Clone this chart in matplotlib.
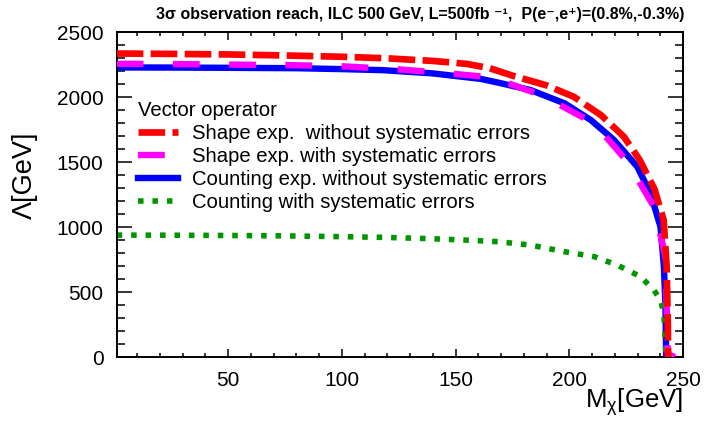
import matplotlib
matplotlib.use("Agg")
import matplotlib.pyplot as plt
from matplotlib.ticker import MultipleLocator

plt.rcParams['font.family'] = ['Liberation Sans', 'DejaVu Sans']
plt.rcParams['mathtext.fontset'] = 'custom'
plt.rcParams['mathtext.rm'] = 'Liberation Sans'
plt.rcParams['mathtext.it'] = 'Liberation Sans:italic'

# values
mass_red = [1, 25, 50, 75, 100, 120, 140, 155, 165, 175, 190, 202, 214, 224, 231, 237.5, 241.5, 242.8, 243.3, 243.5]
lam_red = [2335, 2332, 2328, 2320, 2310, 2298, 2278, 2255, 2222, 2165, 2090, 2002, 1860, 1695, 1515, 1290, 1054, 700, 300, 0]

mass_mag = [1, 25, 50, 76, 99, 125, 144, 166, 187.7, 211, 225.6, 237.2, 242.3, 243, 243.3, 246.5]
lam_mag = [2256, 2254, 2250, 2246, 2238, 2213, 2187, 2151, 2015, 1797, 1502, 1156, 771, 261, 20, 0]

mass_blue = [1, 25, 50, 80, 100, 118, 140, 161, 169, 183, 198, 209.5, 219.7, 229.9, 235.7, 240.1, 241.6, 242.3, 242.6]
lam_blue = [2228, 2227, 2225, 2222, 2215, 2207, 2182, 2140, 2110, 2054, 1951, 1823, 1669, 1464, 1259, 1002, 695, 387, 0]

mass_green = [1, 25, 50, 75, 96, 120, 140, 154, 169, 183, 198, 211, 221, 231.4, 237.2, 240.1, 241.6, 242.3, 242.6]
lam_green = [938, 937, 935, 932, 927, 920, 910, 900, 887, 861, 810, 772, 708, 618, 515, 438, 336, 79, 0]

labels = ["Shape exp.  without systematic errors",
          "Shape exp. with systematic errors",
          "Counting exp. without systematic errors",
          "Counting with systematic errors"]

fig = plt.figure(figsize=(7.05, 4.22), dpi=100)
ax = fig.add_axes([0.1655, 0.154, 0.8033, 0.770])

l_blue, = ax.plot(mass_blue, lam_blue, color='#0000ff', lw=4.6, label=labels[2], zorder=2)
l_green, = ax.plot(mass_green, lam_green, color='#009600', lw=4.0, dashes=(1, 1.6), label=labels[3], zorder=2)
l_mag, = ax.plot(mass_mag, lam_mag, color='#ff00ff', lw=4.6, dashes=(4.2, 4.6), label=labels[1], zorder=3)
l_red, = ax.plot(mass_red, lam_red, color='#ff0000', lw=4.8, dashes=(4.0, 1.1), label=labels[0], zorder=4)

ax.set_xlim(1, 250)
ax.set_ylim(0, 2500)
ax.xaxis.set_major_locator(MultipleLocator(50))
ax.xaxis.set_minor_locator(MultipleLocator(10))
ax.yaxis.set_major_locator(MultipleLocator(500))
ax.yaxis.set_minor_locator(MultipleLocator(100))

ax.tick_params(which='both', direction='in', top=True, right=True, width=1.1, labelsize=15)
ax.tick_params(axis='x', which='major', length=6, pad=10)
ax.tick_params(axis='x', which='minor', length=3)
ax.tick_params(axis='y', which='major', length=11, pad=9.5)
ax.tick_params(axis='y', which='minor', length=5.5)
for sp in ax.spines.values():
    sp.set_linewidth(1.4)

fs = 14.6
leg = ax.legend(handles=[l_red, l_mag, l_blue, l_green], title="Vector operator",
                alignment='left', frameon=False, fontsize=fs, title_fontsize=fs,
                loc='upper left', bbox_to_anchor=(138 / 705, 1 - 101.5 / 422),
                bbox_transform=fig.transFigure, borderpad=0, borderaxespad=0,
                labelspacing=0.19, handlelength=1.97, handletextpad=0.69)

fig.text(420 / 705, 1 - 15 / 422,
         "3\u03c3 observation reach, ILC 500 GeV, L=500fb \u207b\u00b9,  P(e\u207b,e\u207a)=(0.8%,-0.3%)",
         ha='center', va='center', fontsize=11.5, fontweight='bold')
fig.text(25 / 705, 1 - 175 / 422, "\u039b[GeV]", rotation=90, ha='center', va='center', fontsize=19.5)
fig.text(683 / 705, 1 - 408 / 422, r"M$_{\mathrm{\chi}}$[GeV]", ha='right', va='baseline', fontsize=18.5)

fig.savefig("out.png", dpi=100)
